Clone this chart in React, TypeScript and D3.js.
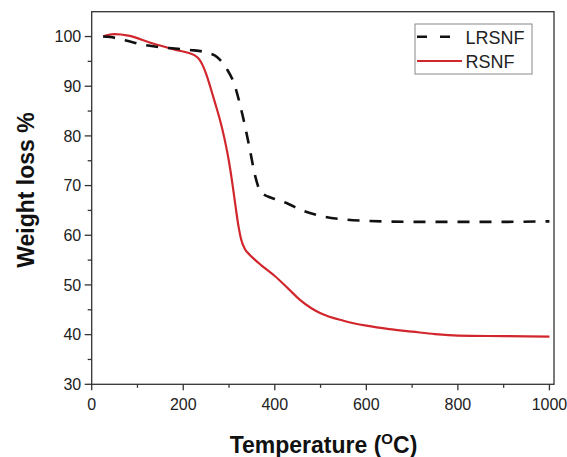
import React from "react";
import * as d3 from "d3";

const lrsnfT = [25, 40, 75, 115, 165, 215, 250, 275, 295, 310, 330, 345, 357, 365, 372, 385, 400, 430, 460, 500, 550, 600, 700, 800, 900, 1000];
const lrsnfW = [100, 99.9, 99.2, 98.3, 97.7, 97.3, 96.8, 95.8, 93.5, 90.8, 84, 77.5, 72, 69.5, 68.5, 67.8, 67.3, 66.3, 65, 63.9, 63.2, 62.9, 62.7, 62.7, 62.7, 62.8];

const rsnfT = [25, 35, 50, 80, 130, 180, 225, 235, 242, 250, 260, 270, 280, 290, 300, 308, 314, 320, 327, 335, 345, 355, 370, 400, 430, 455, 480, 500, 550, 600, 650, 700, 750, 800, 900, 1000];
const rsnfW = [100, 100.3, 100.5, 100.2, 98.7, 97.4, 96.2, 95.4, 94.3, 92.5, 89.6, 86.5, 83.3, 79.5, 74.8, 70, 66, 62.2, 59, 57.2, 56.1, 55.2, 54, 51.8, 49.2, 47, 45.3, 44.3, 42.8, 41.8, 41.1, 40.6, 40.1, 39.8, 39.7, 39.6];

const xMajor = [0, 200, 400, 600, 800, 1000];
const xMinor = [100, 300, 500, 700, 900];
const yMajor = [30, 40, 50, 60, 70, 80, 90, 100];
const yMinor = [35, 45, 55, 65, 75, 85, 95];

const seriesNames = ["LRSNF", "RSNF"];

const W = 567;
const H = 457;
const L = 91.7, R = 554, T = 11.7, B = 384.3;
const FONT = "Liberation Sans, Arial, sans-serif";

export default function App() {
  const x = d3.scaleLinear().domain([0, 1010]).range([L, R]);
  const y = d3.scaleLinear().domain([30, 105]).range([B, T]);
  const line = d3
    .line<[number, number]>()
    .x((d) => x(d[0]))
    .y((d) => y(d[1]))
    .curve(d3.curveMonotoneX);
  const dLR = line(lrsnfT.map((t, i) => [t, lrsnfW[i]] as [number, number])) || "";
  const dR = line(rsnfT.map((t, i) => [t, rsnfW[i]] as [number, number])) || "";
  const red = "#d1262c";
  const axisColor = "#333";

  return (
    <svg
      width={W}
      height={H}
      style={{ position: "absolute", left: 0, top: 0, background: "#fff" }}
      fontFamily={FONT}
    >
      <rect x={0} y={0} width={W} height={H} fill="#fff" />
      <path d={dR} fill="none" stroke={red} strokeWidth={2.2} />
      <path d={dLR} fill="none" stroke="#111" strokeWidth={2.6} strokeDasharray="12,10" />

      {/* frame */}
      <rect x={L} y={T} width={R - L} height={B - T} fill="none" stroke={axisColor} strokeWidth={1.3} />

      {/* x ticks */}
      {xMajor.map((v) => (
        <g key={"xm" + v}>
          <line x1={x(v)} x2={x(v)} y1={B} y2={B + 6} stroke={axisColor} strokeWidth={1.3} />
          <text x={x(v)} y={410} textAnchor="middle" fontSize={16} fill="#222">
            {v}
          </text>
        </g>
      ))}
      {xMinor.map((v) => (
        <line key={"xn" + v} x1={x(v)} x2={x(v)} y1={B} y2={B + 3.5} stroke={axisColor} strokeWidth={1.3} />
      ))}

      {/* y ticks */}
      {yMajor.map((v) => (
        <g key={"ym" + v}>
          <line x1={L - 7} x2={L} y1={y(v)} y2={y(v)} stroke={axisColor} strokeWidth={1.3} />
          <text x={L - 10.5} y={y(v) + 5.7} textAnchor="end" fontSize={16} fill="#222">
            {v}
          </text>
        </g>
      ))}
      {yMinor.map((v) => (
        <line key={"yn" + v} x1={L - 4} x2={L} y1={y(v)} y2={y(v)} stroke={axisColor} strokeWidth={1.3} />
      ))}

      {/* axis titles */}
      <text
        transform={`translate(34,190) rotate(-90)`}
        textAnchor="middle"
        fontSize={23}
        fontWeight="bold"
        fill="#111"
      >
        Weight loss %
      </text>
      <text x={323.5} y={453} textAnchor="middle" fontSize={23} fontWeight="bold" fill="#111">
        Temperature (
        <tspan fontSize={15} dy={-9}>O</tspan>
        <tspan dy={9}>C)</tspan>
      </text>

      {/* legend */}
      <rect x={415} y={24} width={117} height={50} fill="#fff" stroke="#888" strokeWidth={1} />
      <line x1={417} x2={455} y1={36.7} y2={36.7} stroke="#111" strokeWidth={2.6} strokeDasharray="10,13" />
      <text x={465.5} y={43.5} fontSize={18} fill="#222">
        {seriesNames[0]}
      </text>
      <line x1={417} x2={462} y1={61} y2={61} stroke={red} strokeWidth={2.2} />
      <text x={465.5} y={67.5} fontSize={18} fill="#222">
        {seriesNames[1]}
      </text>
    </svg>
  );
}
